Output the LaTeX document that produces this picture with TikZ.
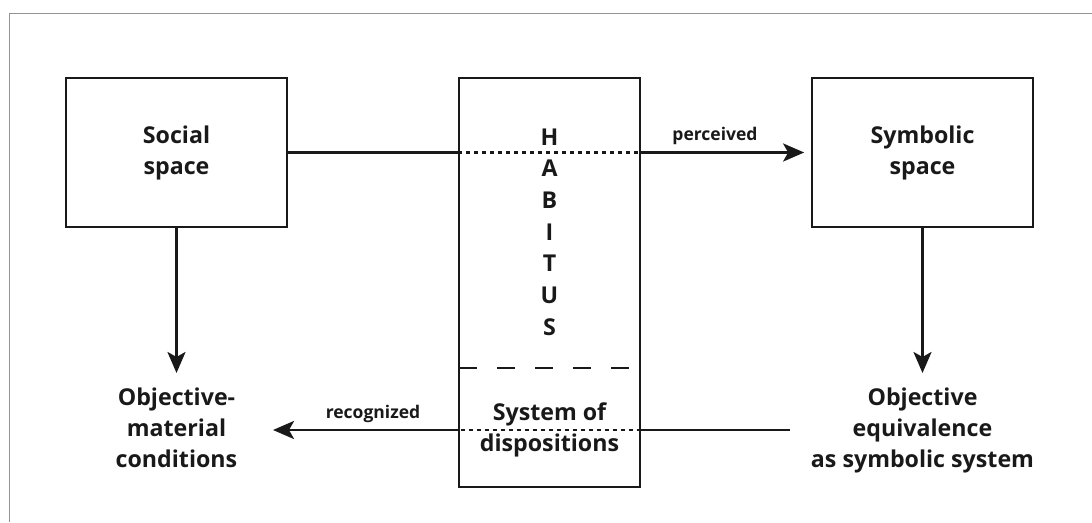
\documentclass[tikz,border=0pt]{standalone}
\usepackage{fontspec}
\setmainfont{Open Sans}
\usetikzlibrary{arrows.meta}
\begin{document}
\begin{tikzpicture}[x=1pt,y=-1pt,
  box/.style={draw=black!90, line width=1.7pt, inner sep=0pt},
  lbl/.style={font=\bfseries\fontsize{23.2}{31}\selectfont, align=center, inner sep=0pt, text=black!90},
  small/.style={font=\bfseries\fontsize{17.5}{20}\selectfont, inner sep=0pt, text=black!90},
  conn/.style={line width=2.8pt, draw=black!90},
  arr/.style={conn, -{Stealth[length=21pt,width=18pt,inset=5pt]}},
  dots/.style={line width=2.8pt, draw=black!90, dash pattern=on 4pt off 4pt},
  divider/.style={line width=1.6pt, draw=black!90, dash pattern=on 18pt off 20pt}]
\useasboundingbox (0,0) rectangle (1092,522);
\draw[gray!85, line width=1pt] (1092,13) -- (9,13) -- (9,522);
% boxes
\node[box, lbl, minimum width=221pt, minimum height=149pt] (social) at (176.5,152.5) {Social\\space};
\node[box, lbl, minimum width=221pt, minimum height=149pt] (symbolic) at (922.5,152.5) {Symbolic\\space};
\node[box, minimum width=181pt, minimum height=409pt] (habitus) at (549.5,282.5) {};
\node[lbl, font=\bfseries\fontsize{23.2}{31.67}\selectfont] (habtext) at (549.5,232) {H\\A\\B\\I\\T\\U\\S};
\node[lbl] (sysdisp) at (549.5,430) {System of\\dispositions};
\draw[divider] (459,368) -- (640,368);
% lower texts
\node[lbl] (objmat) at (176.5,428) {Objective-\\material\\conditions};
\node[lbl] (objeq) at (922.5,430) {Objective\\equivalence\\as symbolic system};
% top connector
\draw[conn] (social.east) -- (habitus.west |- social.east);
\draw[dots] (habitus.west |- social.east) -- (habitus.east |- social.east);
\draw[arr] (habitus.east |- social.east) -- ([xshift=-7pt]symbolic.west);
\node[small] (perc) at (715,136) {perceived};
% bottom connector
\coordinate (bstart) at (790,430);
\coordinate (btip) at (273,430);
\draw[conn] (bstart) -- (habitus.east |- bstart);
\draw[dots] (habitus.east |- bstart) -- (habitus.west |- bstart);
\draw[arr] (habitus.west |- bstart) -- (btip);
\node[small] (recog) at (373,414) {recognized};
% vertical arrows
\coordinate (ltip) at (176.5,373);
\coordinate (rtip) at (922.5,373);
\draw[arr] (social.south) -- (ltip);
\draw[arr] (symbolic.south) -- (rtip);
\end{tikzpicture}
\end{document}
